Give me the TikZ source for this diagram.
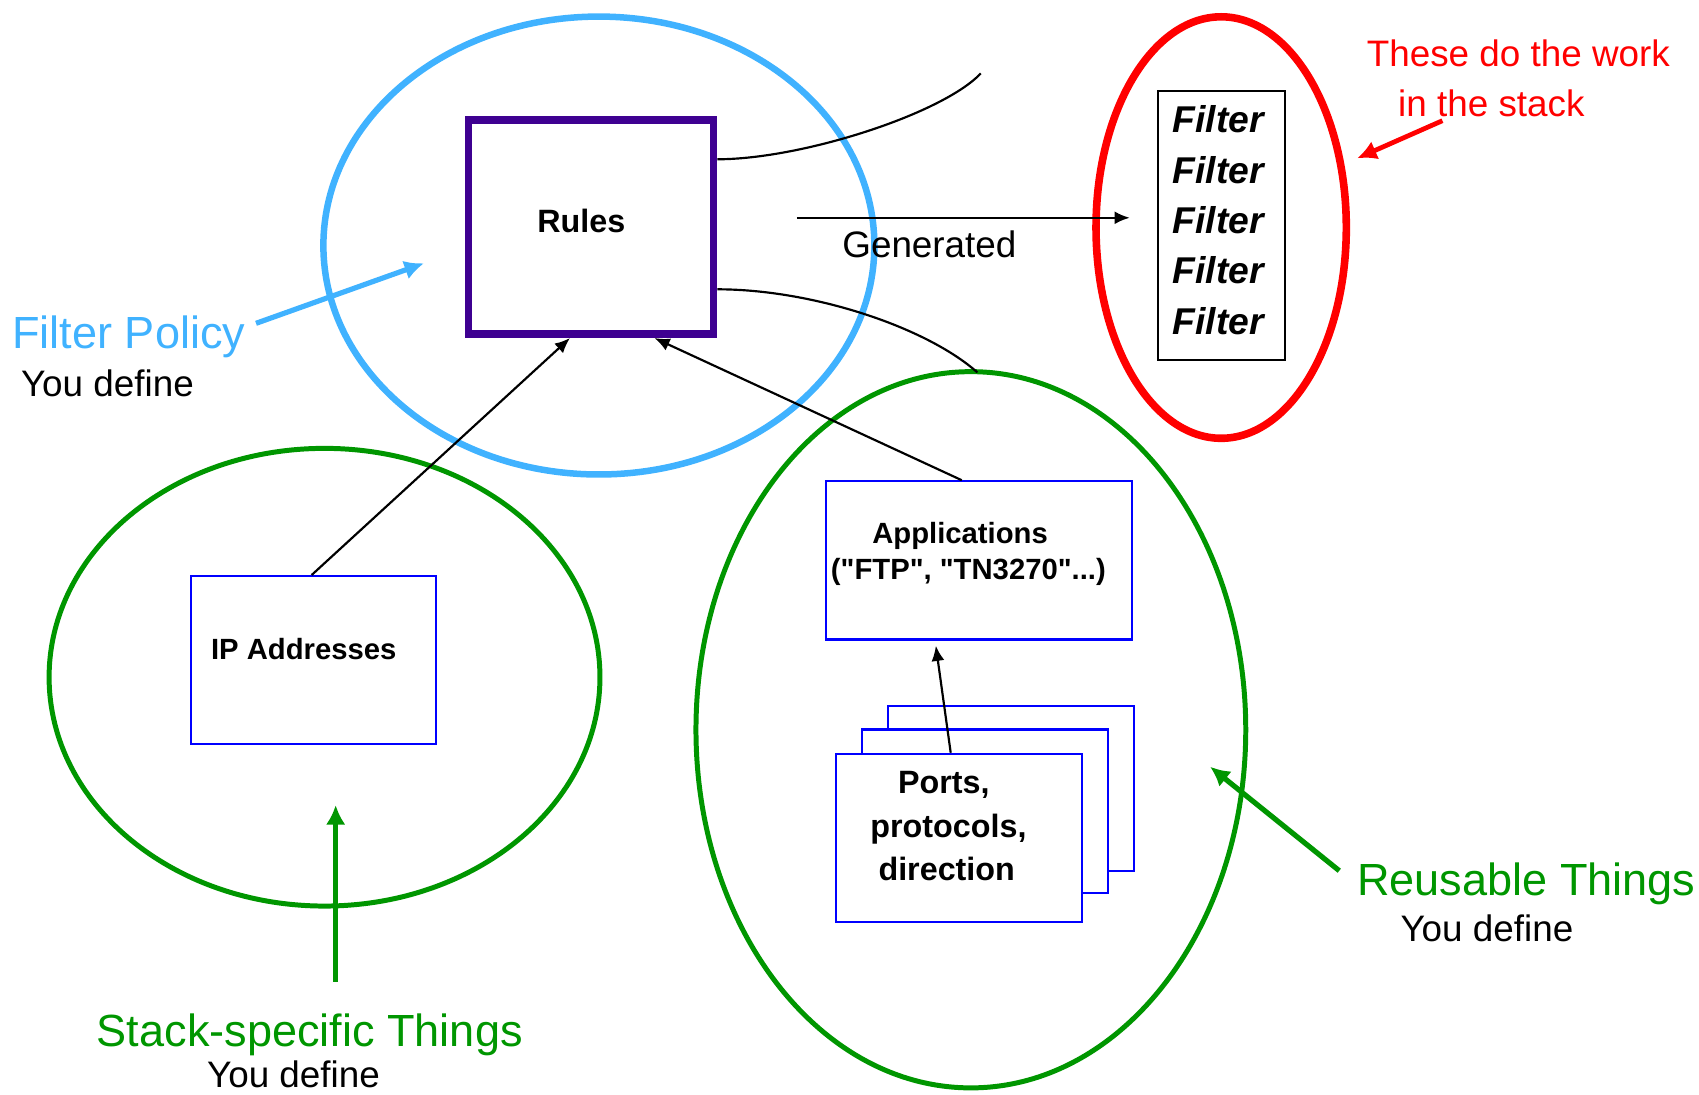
\documentclass[tikz,border=0pt]{standalone}
\usepackage{fontspec}
\setmainfont{Liberation Sans}
% same face without the TeX input mapping, so " stays a straight quote
\newfontfamily\straightquotes{Liberation Sans}
\usetikzlibrary{shapes.geometric,arrows.meta,calc}
\definecolor{policyblue}{RGB}{64,178,255}
\definecolor{rulesviolet}{RGB}{62,0,145}
\definecolor{thinggreen}{RGB}{0,150,0}
\definecolor{boxblue}{RGB}{0,0,255}
\definecolor{workred}{RGB}{255,0,0}
\begin{document}
\begin{tikzpicture}[x=0.5pt,y=-0.5pt,
  ring/.style={ellipse,draw,fill=none,inner sep=0pt},
  thing/.style={rectangle,draw=boxblue,line width=1pt,fill=white,inner sep=0pt},
  link/.style={black,line width=1pt,-{Latex[length=7pt,width=6pt]}},
  pointer/.style={line width=2.4pt,-{Latex[length=9pt,width=9pt]}},
  big/.style={font=\fontsize{20.8}{25}\selectfont,anchor=base west,inner sep=0pt},
  small/.style={font=\fontsize{17}{20}\selectfont,anchor=base west,inner sep=0pt},
  boxtext/.style={font=\bfseries\fontsize{#1}{#1}\selectfont,anchor=base,inner sep=0pt},
]
\useasboundingbox (0,0) rectangle (1568,1010);

% the four groupings
\node[ring,draw=policyblue,line width=3pt,minimum width=254.25pt,minimum height=211.3pt] (policy) at (552.7,226.6) {};
\node[ring,draw=workred,line width=3.5pt,minimum width=115.5pt,minimum height=194.5pt] (stackring) at (1127,210) {};
\node[ring,draw=thinggreen,line width=2.3pt,minimum width=254.2pt,minimum height=211.2pt] (local) at (299.5,625) {};
\node[ring,draw=thinggreen,line width=2.3pt,minimum width=253.7pt,minimum height=330.5pt] (reuse) at (896,673.5) {};

% rules
\node[rectangle,draw=rulesviolet,line width=3.5pt,fill=white,minimum width=113pt,minimum height=99pt,inner sep=0pt] (rules) at (545.5,209.5) {};
\node[boxtext=14.9] (rulestext) at (536.5,214.7) {Rules};

% generated filters
\node[rectangle,draw,line width=1pt,minimum width=58.7pt,minimum height=124pt,inner sep=0pt] (filters) at (1127.3,208) {};
\foreach \i in {0,...,4}
  \node[font=\bfseries\itshape\fontsize{17.2}{20}\selectfont,anchor=base west,inner sep=0pt] (filter\i) at (1081.7,{122.5+46.45*\i}) {Filter};

\coordinate (genstart) at (735.5,201);
\draw[link] (genstart) -- ($(filters.west)+(-25,-7)$);
\node[small] (gentext) at (777,238) {Generated};

% loose connectors on the right of the rules
\coordinate (curveend) at (905.2,67.7);
\draw[line width=1pt] ([yshift=31.25pt]rules.east) .. controls (740,147) and (870,105) .. (curveend);
\draw[line width=1pt] ([yshift=-28.75pt]rules.east) .. controls (750,267) and (855,302) .. ($(reuse.north)+(6,3)$);

% red note
\node[small,text=workred] (worktext1) at (1261,61.5) {These do the work};
\node[small,text=workred] (worktext2) at (1290,107.7) {in the stack};
\coordinate (worktail) at (1331.2,111.4);
\coordinate (worktip) at (1252.5,146.1);
\draw[pointer,workred,line width=2.2pt] (worktail) -- (worktip);

% policy note
\node[big,text=policyblue] (policytext) at (11,322) {Filter Policy};
\node[small] (policydef) at (19,366) {You define};
\coordinate (policytail) at (236.3,298.4);
\coordinate (policytip) at (391.3,243);
\draw[pointer,policyblue] (policytail) -- (policytip);

% stack-specific things
\node[thing,minimum width=113.1pt,minimum height=77.5pt] (ip) at (289.5,609.2) {};
\node[boxtext=13.5] (iptext) at (280.3,608.5) {IP Addresses};

% reusable things
\node[thing,minimum width=141pt,minimum height=73pt] (apps) at (903.4,517.2) {};
\node[boxtext=13.5] (appstext1) at (886,501.5) {Applications};
\node[boxtext=13.5,font=\straightquotes\bfseries\fontsize{13.5}{13.5}\selectfont] (appstext2) at (893.7,534.7) {("FTP", "TN3270"...)};

\node[thing,minimum width=113.5pt,minimum height=76pt] (portsback) at (933.4,727.6) {};
\node[thing,minimum width=113.5pt,minimum height=75.5pt] (portsmid) at (909.3,748.8) {};
\node[thing,minimum width=113.5pt,minimum height=77.5pt] (ports) at (885.2,773.2) {};
\node[boxtext=14.9] (portstext1) at (871,732.2) {Ports,};
\node[boxtext=14.9] (portstext2) at (875.3,773.1) {protocols,};
\node[boxtext=14.9] (portstext3) at (873.7,812.2) {direction};

% inputs to the rules
\draw[link] ([xshift=-0.95pt]ip.north) -- ([xshift=-9.75pt]rules.south);
\draw[link] ([xshift=-7.9pt]apps.north) -- ([xshift=29.25pt]rules.south);
\draw[link,shorten >=2.4pt] ([xshift=-3.9pt]ports.north) -- ([xshift=-20.2pt]apps.south);

% green notes
\coordinate (reusetail) at (1236,803.6);
\coordinate (reusetip) at (1116.8,707.6);
\draw[pointer,thinggreen] (reusetail) -- (reusetip);
\node[big,text=thinggreen] (reusetext) at (1252.1,826.6) {Reusable Things};
\node[small] (reusedef) at (1292.1,869.1) {You define};

\coordinate (localtail) at (309.8,906);
\coordinate (localtip) at (309.8,743);
\draw[pointer,thinggreen] (localtail) -- (localtip);
\node[big,text=thinggreen] (localtext) at (89,966) {Stack-specific Things};
\node[small] (localdef) at (190.7,1004) {You define};
\end{tikzpicture}
\end{document}
